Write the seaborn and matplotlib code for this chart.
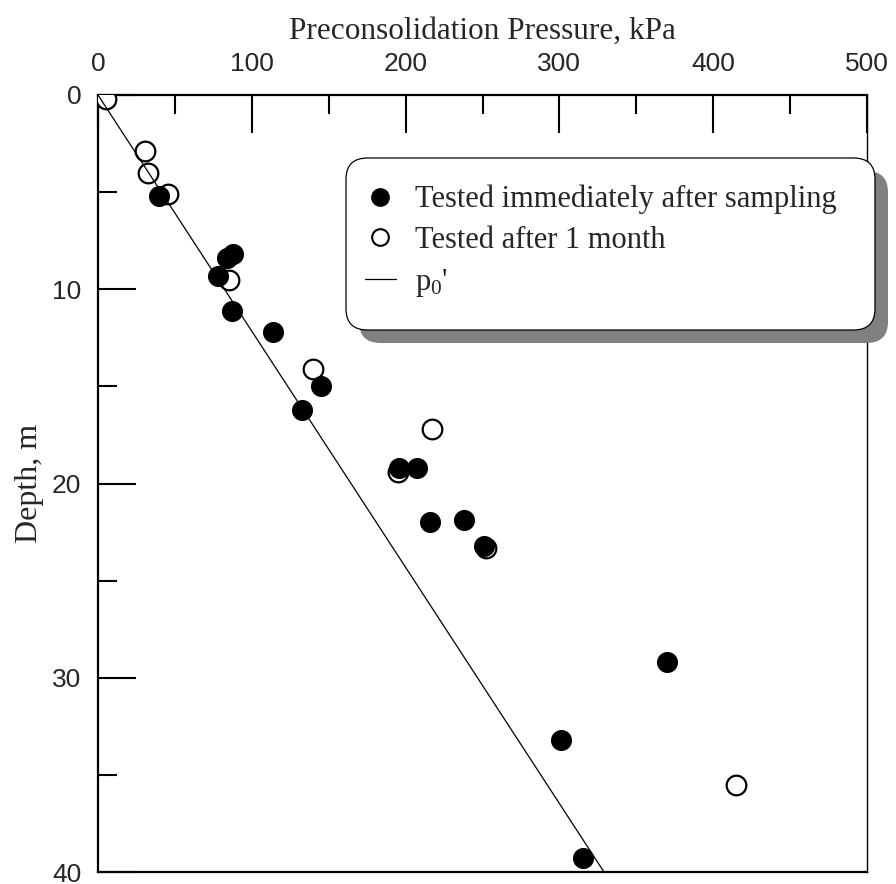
import matplotlib
matplotlib.use("Agg")
import matplotlib.pyplot as plt
import seaborn as sns
import pandas as pd
from matplotlib.lines import Line2D
from matplotlib.patches import FancyBboxPatch
from matplotlib.ticker import MultipleLocator

# --- data (pressure in kPa, depth in m) ---
imm_pressure = [39.7, 88, 83.8, 78.3, 87, 113.5, 145, 132.5, 195.5, 207.5, 215.7, 238, 251, 370, 301, 315.5]
imm_depth    = [5.2, 8.2, 8.4, 9.3, 11.1, 12.2, 15.0, 16.2, 19.2, 19.2, 22.0, 21.9, 23.2, 29.2, 33.2, 39.3]

month_pressure = [5.5, 30.6, 32.8, 45.8, 85, 140, 217, 195, 252, 415]
month_depth    = [0.2, 2.9, 4.0, 5.1, 9.5, 14.1, 17.2, 19.4, 23.3, 35.5]

p0_pressure = [0, 329]
p0_depth = [0, 40]

labels = ["Tested immediately after sampling", "Tested after 1 month", "p$_\\mathrm{0}$'"]

sns.set_theme(style="white")
plt.rcParams['font.family'] = ['Liberation Serif', 'DejaVu Serif']
plt.rcParams['mathtext.fontset'] = 'custom'
plt.rcParams['mathtext.rm'] = 'Liberation Serif'
plt.rcParams['mathtext.it'] = 'Liberation Serif:italic'

W, H = 896, 884
fig = plt.figure(figsize=(W / 100, H / 100), dpi=100)
ax = fig.add_axes([98 / W, 1 - 872 / H, (867 - 98) / W, (872 - 95) / H])

df_m = pd.DataFrame({"p": month_pressure, "d": month_depth})
df_i = pd.DataFrame({"p": imm_pressure, "d": imm_depth})
sns.scatterplot(data=df_m, x="p", y="d", ax=ax, s=200, marker="o",
                facecolor="white", edgecolor="black", linewidth=1.6, zorder=3)
sns.scatterplot(data=df_i, x="p", y="d", ax=ax, s=200, marker="o",
                color="black", edgecolor="black", linewidth=1.0, zorder=4)
df_line = pd.DataFrame({"p": p0_pressure, "d": p0_depth})
sns.lineplot(data=df_line, x="p", y="d", ax=ax, color="black", linewidth=0.9, sort=False, zorder=5)

ax.set_xlim(0, 500)
ax.set_ylim(40, 0)
ax.xaxis.set_major_locator(MultipleLocator(100))
ax.xaxis.set_minor_locator(MultipleLocator(50))
ax.yaxis.set_major_locator(MultipleLocator(10))
ax.yaxis.set_minor_locator(MultipleLocator(5))
ax.xaxis.tick_top()
ax.xaxis.set_label_position("top")
ax.tick_params(axis="both", which="major", direction="in", length=27, width=1.5,
               labelsize=19, color="black")
ax.tick_params(axis="both", which="minor", direction="in", length=14, width=1.5, color="black")
ax.tick_params(axis="x", which="both", bottom=False, top=True, labelbottom=False, labeltop=True, pad=14)
ax.tick_params(axis="y", which="both", right=False, left=True, pad=12)
for lab in ax.get_xticklabels() + ax.get_yticklabels():
    lab.set_fontfamily(["Liberation Sans", "DejaVu Sans"])

for side, lw in [("left", 1.6), ("top", 1.6), ("bottom", 1.6), ("right", 1.0)]:
    ax.spines[side].set_visible(True)
    ax.spines[side].set_color("black")
    ax.spines[side].set_linewidth(lw)

ax.set_xlabel("Preconsolidation Pressure, kPa", fontsize=22.5, labelpad=9)
ax.set_ylabel("Depth, m", fontsize=23, labelpad=6)

# legend box with solid grey shadow (drawn above the axes so it hides the right spine)
bx0, by0, bx1, by1 = 346, 158, 875, 330
off = 13
shadow = FancyBboxPatch(((bx0 + off) / W, 1 - (by1 + off) / H), (bx1 - bx0) / W, (by1 - by0) / H,
                        boxstyle="round,pad=0,rounding_size=0.024", transform=fig.transFigure,
                        facecolor="#808080", edgecolor="none", zorder=2)
box = FancyBboxPatch((bx0 / W, 1 - by1 / H), (bx1 - bx0) / W, (by1 - by0) / H,
                     boxstyle="round,pad=0,rounding_size=0.024", transform=fig.transFigure,
                     facecolor="white", edgecolor="black", linewidth=0.9, zorder=3)
fig.patches.extend([shadow, box])

handles = [
    Line2D([], [], marker="o", color="black", linestyle="none", markersize=12.5),
    Line2D([], [], marker="o", markerfacecolor="white", markeredgecolor="black",
           markeredgewidth=1.5, linestyle="none", markersize=12),
    Line2D([], [], color="black", linewidth=0.9),
]
leg = fig.legend(handles, labels, loc="upper left", bbox_to_anchor=(365 / W, 1 - 185 / H),
                 fontsize=22, frameon=False, borderpad=0, borderaxespad=0,
                 handlelength=1.0, handletextpad=0.65, labelspacing=0.38)
leg.set_zorder(10)

fig.savefig("out.png", dpi=100)
